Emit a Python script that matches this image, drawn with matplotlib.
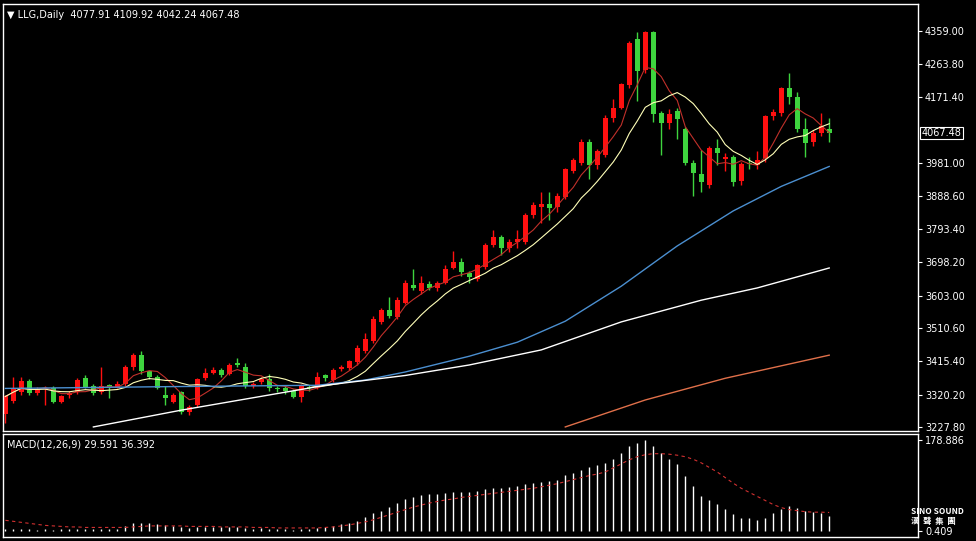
import matplotlib.pyplot as plt
import pandas as pd

# OHLC daily candles for LLG (red = up, green = down)
opens = [3265, 3302, 3328, 3360, 3326, 3335, 3340, 3300, 3318, 3328,
         3368, 3345, 3328, 3348, 3340, 3350, 3398, 3433, 3388, 3372,
         3320, 3300, 3328, 3270, 3290, 3368, 3382, 3390, 3380, 3410,
         3400, 3345, 3355, 3365, 3340, 3340, 3330, 3314, 3342, 3340,
         3375, 3362, 3393, 3396, 3413, 3445, 3473, 3527, 3562, 3542,
         3582, 3633, 3615, 3636, 3625, 3640, 3682, 3700, 3668, 3650,
         3685, 3748, 3770, 3738, 3755, 3756, 3833, 3855, 3865, 3855,
         3885, 3960, 3982, 4042, 3975, 4005, 4110, 4140, 4205, 4335,
         4248, 4355, 4125, 4095, 4130, 4080, 3982, 3950, 3920, 4025,
         3992, 4000, 3930, 3982, 3975, 3995, 4115, 4124, 4197, 4170,
         4080, 4042, 4068, 4077.91]
closes = [3315, 3340, 3360, 3326, 3335, 3340, 3300, 3315, 3325, 3362,
          3342, 3326, 3345, 3342, 3352, 3400, 3433, 3387, 3372, 3340,
          3312, 3320, 3272, 3285, 3365, 3382, 3392, 3375, 3405, 3405,
          3345, 3350, 3365, 3338, 3336, 3330, 3314, 3345, 3338, 3370,
          3368, 3390, 3400, 3415, 3453, 3478, 3536, 3562, 3545, 3590,
          3639, 3625, 3640, 3625, 3638, 3680, 3700, 3670, 3655, 3690,
          3748, 3770, 3738, 3755, 3765, 3833, 3862, 3865, 3853, 3888,
          3966, 3990, 4042, 3977, 4017, 4110, 4140, 4207, 4325, 4245,
          4356, 4122, 4095, 4122, 4108, 3982, 3953, 3928, 4025, 4010,
          4000, 3928, 3980, 3980, 3990, 4115, 4127, 4195, 4170, 4079,
          4040, 4068, 4088, 4067.48]
highs = [3320, 3370, 3372, 3365, 3342, 3345, 3345, 3320, 3330, 3368,
         3375, 3350, 3400, 3352, 3358, 3405, 3440, 3445, 3392, 3375,
         3345, 3325, 3332, 3290, 3368, 3395, 3400, 3395, 3412, 3425,
         3412, 3355, 3372, 3380, 3345, 3345, 3335, 3350, 3348, 3385,
         3380, 3395, 3405, 3420, 3462, 3495, 3545, 3568, 3600, 3598,
         3648, 3680, 3660, 3645, 3645, 3690, 3730, 3710, 3672, 3692,
         3752, 3790, 3775, 3765, 3790, 3838, 3870, 3900, 3900, 3895,
         3968, 3995, 4050, 4050, 4022, 4118, 4165, 4210, 4330, 4355,
         4360, 4360, 4130, 4135, 4140, 4085, 3990, 4020, 4030, 4050,
         4010, 4005, 3985, 4000, 4015, 4118, 4135, 4200, 4240, 4185,
         4110, 4075, 4125, 4109.92]
lows = [3240, 3295, 3320, 3320, 3320, 3290, 3295, 3295, 3312, 3322,
        3338, 3318, 3322, 3310, 3338, 3345, 3392, 3380, 3365, 3335,
        3290, 3295, 3265, 3262, 3285, 3362, 3378, 3370, 3375, 3398,
        3340, 3340, 3352, 3330, 3328, 3322, 3310, 3300, 3330, 3335,
        3360, 3355, 3388, 3392, 3405, 3440, 3468, 3522, 3540, 3535,
        3578, 3618, 3608, 3618, 3615, 3635, 3678, 3660, 3640, 3645,
        3680, 3742, 3720, 3728, 3738, 3750, 3825, 3810, 3820, 3842,
        3878, 3952, 3975, 3935, 3965, 4000, 4100, 4135, 4195, 4160,
        4240, 4100, 4005, 4080, 4050, 3975, 3887, 3900, 3910, 3975,
        3960, 3915, 3920, 3965, 3965, 3985, 4105, 4115, 4150, 4070,
        4000, 4030, 4060, 4042.24]

# longer moving averages at a few candles
ma_blue_idx = [0, 20, 39, 45, 50, 58, 64, 70, 77, 84, 91, 97, 103]
ma_blue_val = [3338, 3343, 3347, 3362, 3385, 3430, 3470, 3530, 3630, 3745, 3845, 3915, 3972]
ma_white_idx = [11, 22, 40, 50, 58, 67, 77, 87, 94, 103]
ma_white_val = [3228, 3276, 3347, 3375, 3405, 3448, 3528, 3590, 3625, 3682]
ma_orange_idx = [70, 80, 90, 103]
ma_orange_val = [3228, 3305, 3367, 3433]

# MACD histogram and signal
macd_hist = [3, 3, 4, 3, 2, 3, 2, 3, 3, 4,
             4, 3, 4, 3, 4, 10, 16, 16, 15, 14,
             12, 10, 8, 6, 8, 8, 8, 7, 8, 7,
             5, 4, 5, 4, 3, 3, 2, 4, 4, 6,
             8, 10, 13, 16, 20, 27, 35, 40, 47, 55,
             62, 67, 70, 72, 73, 74, 76, 77, 77, 79,
             82, 84, 85, 87, 88, 92, 95, 97, 98, 100,
             110, 115, 120, 125, 130, 134, 142, 153, 167, 173,
             179, 167, 153, 142, 131, 108, 88, 69, 61, 53,
             44, 33, 26, 26, 21, 26, 35, 44, 50, 46,
             40, 37, 35, 29.591]
macd_signal = [21, 19, 17, 15, 13, 11, 10, 9, 8, 8,
               7, 7, 7, 7, 7, 7, 8, 9, 10, 10,
               10, 10, 10, 9, 9, 9, 9, 8, 8, 8,
               8, 7, 7, 7, 6, 6, 6, 6, 6, 6,
               7, 8, 10, 12, 15, 18, 22, 27, 32, 37,
               42, 47, 51, 55, 58, 61, 63, 66, 68, 70,
               72, 74, 76, 78, 80, 82, 84, 87, 90, 93,
               97, 101, 105, 109, 112, 116, 124, 132, 140, 146,
               150, 152, 152, 151, 149, 146, 141, 134, 125, 116,
               105, 94, 84, 76, 68, 60, 52, 46, 42, 40,
               38, 37, 37, 36.392]

price_ticks = [4359.00, 4263.80, 4171.40, 3981.00, 3888.60, 3793.40,
               3698.20, 3603.00, 3510.60, 3415.40, 3320.20, 3227.80]
last_price = 4067.48

UP = '#ff1010'
DOWN = '#3ed43e'

fig = plt.figure(figsize=(9.76, 5.41), dpi=100, facecolor='black')
W, H = 976, 541
ax = fig.add_axes([3 / W, (H - 431) / H, 915 / W, 427 / H])
ax2 = fig.add_axes([3 / W, (H - 537) / H, 915 / W, 103 / H])

n = len(closes)
xs = list(range(n))
for a in (ax, ax2):
    a.set_facecolor('black')
    for s in a.spines.values():
        s.set_color('white')
        s.set_linewidth(1)
    a.set_xlim(-0.3, 114.1)
    a.set_xticks([])
    a.yaxis.tick_right()
    a.tick_params(axis='y', colors='white', labelsize=7, length=3, pad=2)

# candles
for i in xs:
    o, c = opens[i], closes[i]
    col = UP if c >= o else DOWN
    ax.vlines(i, lows[i], highs[i], color=col, linewidth=1)
    ax.bar(i, max(abs(c - o), 1.5), bottom=min(o, c), width=0.6, color=col, linewidth=0)

cl = pd.Series(closes)
ax.plot(xs, cl.rolling(5, min_periods=1).mean(), color='#c0302a', linewidth=0.8)
ax.plot(xs, cl.rolling(10, min_periods=1).mean(), color='#ffffb8', linewidth=0.8)
ax.plot(ma_blue_idx, ma_blue_val, color='#4b8fd0', linewidth=1)
ax.plot(ma_white_idx, ma_white_val, color='white', linewidth=1)
ax.plot(ma_orange_idx, ma_orange_val, color='#e0704a', linewidth=1)

ax.set_ylim(3216.4, 4436)
ax.set_yticks(price_ticks)
ax.set_yticklabels(['%.2f' % t for t in price_ticks])
ax.text(1.004, (last_price - 3216.4) / (4436 - 3216.4), '%.2f' % last_price,
        transform=ax.transAxes, color='white', fontsize=7, va='center', ha='left',
        bbox=dict(facecolor='black', edgecolor='white', boxstyle='square,pad=0.15', linewidth=0.8))
ax.text(0.004, 0.985, '\u25bc LLG,Daily  4077.91 4109.92 4042.24 4067.48',
        transform=ax.transAxes, color='white', fontsize=7, va='top', ha='left')

# MACD
ax2.vlines(xs, 0, macd_hist, color='white', linewidth=1)
ax2.plot(xs, macd_signal, color='#d03030', linewidth=0.8, linestyle=(0, (3, 3)))
ax2.set_ylim(-11.8, 190.7)
ax2.set_yticks([178.886, 0.409])
ax2.set_yticklabels(['178.886', '0.409'])
ax2.text(0.004, 0.95, 'MACD(12,26,9) 29.591 36.392', transform=ax2.transAxes,
         color='white', fontsize=7, va='top', ha='left')
fig.text(0.933, 0.045, 'SINO SOUND\n漢  聲  集  團', color='white', fontsize=6,
         fontweight='bold', ha='left', va='center',
         family=['Noto Sans CJK TC', 'DejaVu Sans'])

fig.savefig('out.png', dpi=100, facecolor='black')
